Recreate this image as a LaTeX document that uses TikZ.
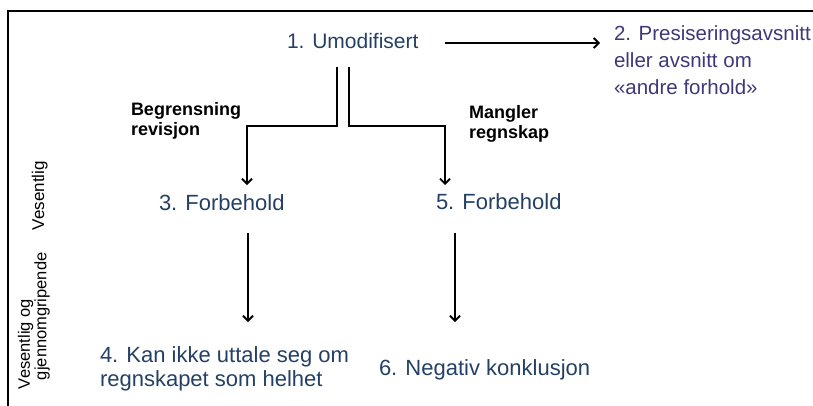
\documentclass[tikz,border=0pt]{standalone}
\usepackage{fontspec}
\setmainfont{Liberation Sans}
\usetikzlibrary{arrows.meta}
\definecolor{nodeblue}{RGB}{36,64,100}
\definecolor{nodepurple}{RGB}{62,56,122}
\begin{document}
\begin{tikzpicture}[x=1pt,y=-1pt,
  conn/.style={line width=1.8pt, draw=black},
  arr/.style={conn, -{Straight Barb[length=5pt,width=10pt,line width=1.8pt]}},
  txt/.style={inner sep=0pt, outer sep=0pt, text=nodeblue, font=\fontsize{22}{24}\selectfont},
  lbl/.style={inner sep=0pt, outer sep=0pt, text=black, font=\bfseries\fontsize{18}{20}\selectfont},
  side/.style={inner sep=0pt, outer sep=0pt, text=black, font=\fontsize{16.5}{15}\selectfont},
  frame/.style={line width=2pt, draw=black}
]
\useasboundingbox (0,0) rectangle (813,405);
\draw[frame] (8,407) -- (8,11) -- (815,11);

% main nodes
\node[txt, anchor=base west, font=\fontsize{21}{24}\selectfont] (u1) at (287,48) {1. Umodifisert};
\node[txt, text=nodepurple, anchor=north west, align=left, font=\fontsize{20.5}{27}\selectfont] (n2) at (614,25.3) {2. Presiseringsavsnitt\\eller avsnitt om\\«andre forhold»};
\node[txt, anchor=base west] (f3) at (159,210) {3. Forbehold};
\node[txt, anchor=base west] (f5) at (436,209) {5. Forbehold};
\node[txt, anchor=north west, align=left] (k4) at (100,347) {4. Kan ikke uttale seg om\\regnskapet som helhet};
\node[txt, anchor=base west] (n6) at (379,375) {6. Negativ konklusjon};

% branch labels
\node[lbl, anchor=north west, align=left] (lb) at (131,102) {Begrensning\\revisjon};
\node[lbl, anchor=north west, align=left] (lm) at (469,105) {Mangler\\regnskap};

% side labels
\node[side, rotate=90, anchor=base west, font=\fontsize{17}{15}\selectfont] (v1) at (44,230) {Vesentlig};
\node[side, rotate=90, anchor=north west, align=left] (v2) at (18,389) {Vesentlig og\\\hspace*{9pt}gjennomgripende};

% connector points
\coordinate (h1) at (445,43);
\coordinate (h2) at (600,43);
\coordinate (s3) at (337,67);
\coordinate (c3a) at (337,126);
\coordinate (c3b) at (247,126);
\coordinate (e3) at (247,185);
\coordinate (s5) at (349,67);
\coordinate (c5a) at (349,126);
\coordinate (c5b) at (445,126);
\coordinate (e5) at (445,185);
\coordinate (s4) at (248,233);
\coordinate (e4) at (248,322);
\coordinate (s6) at (455,233);
\coordinate (e6) at (455,322);

\draw[arr] (h1) -- (h2);
\draw[arr] (s3) -- (c3a) -- (c3b) -- (e3);
\draw[arr] (s5) -- (c5a) -- (c5b) -- (e5);
\draw[arr] (s4) -- (e4);
\draw[arr] (s6) -- (e6);
\end{tikzpicture}
\end{document}
